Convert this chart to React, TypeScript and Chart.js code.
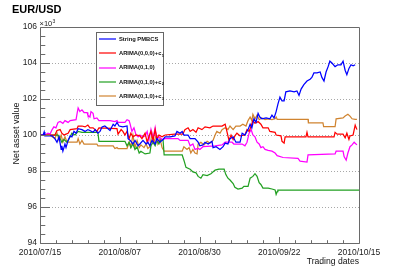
import React, { useEffect, useRef } from 'react';
import { Chart, registerables } from 'chart.js';

Chart.register(...registerables);

const FONT = '"Liberation Sans", Arial, Helvetica, sans-serif';

// x axis: days since 2010/07/15
const xTickDays = [0, 23, 46, 69, 92];
const xTickLabels = ['2010/07/15', '2010/08/07', '2010/08/30', '2010/09/22', '2010/10/15'];
const yTicks = [94, 96, 98, 100, 102, 104, 106];
const yGridValues = [96, 98, 100, 102, 104];

const blueDays = [0,0.9,1.2,1.4,3.5,4.3,4.9,5.5,6.1,6.3,6.6,7.2,7.5,8.1,8.7,9.2,9.8,10.4,11.0,12.1,13.0,13.8,14.4,15.3,15.9,16.7,17.3,17.9,18.7,19.3,20.2,21.1,21.6,22.2,22.8,23.9,25.1,25.4,26.0,26.8,27.4,28.3,28.8,29.7,30.6,31.1,31.7,32.3,33.2,33.7,34.6,35.5,36.1,37.5,38.9,39.5,40.4,41.0,41.5,42.7,43.3,44.7,45.6,46.1,47.0,47.6,48.5,49.6,49.9,50.8,51.9,52.8,53.4,54.2,54.8,55.7,56.5,57.7,58.3,59.1,60.0,60.6,61.1,61.7,62.3,62.9,63.4,64.0,65.2,66.3,66.9,67.5,68.1,68.6,69.2,69.8,70.4,70.9,72.1,73.3,74.1,74.7,75.3,76.1,77.0,77.9,78.4,79.0,79.9,80.8,81.3,81.9,82.5,83.1,83.6,84.2,85.1,85.9,86.8,87.4,88.0,88.5,89.1,89.7,90.3,90.9];
const blueValues = [100.0,100.0,100.17,99.95,99.95,99.8,99.6,99.9,99.2,99.4,99.1,99.5,99.3,99.7,99.95,99.9,100.2,100.1,100.35,100.3,100.2,100.3,100.25,100.15,100.3,100.1,100.2,100.45,100.5,100.4,100.25,100.6,100.5,100.7,100.5,100.45,100.5,99.8,99.7,99.5,99.7,99.4,99.5,99.7,99.5,99.6,99.4,99.7,99.5,99.8,99.6,99.75,99.9,99.9,99.95,100.2,100.1,100.2,100.0,100.0,99.8,99.8,99.6,99.4,99.45,99.6,99.5,99.65,99.3,99.35,99.2,99.35,99.55,99.5,99.8,99.9,99.6,99.6,100.1,100.0,100.3,100.6,100.4,100.9,100.7,101.2,101.0,100.9,100.95,100.9,101.1,100.95,101.3,101.7,102.1,101.9,101.9,102.4,102.45,102.4,102.45,102.2,102.55,102.8,103.0,103.1,103.2,103.45,103.45,103.5,103.2,103.0,103.5,103.8,104.1,104.0,103.8,103.9,103.9,104.1,103.6,103.35,103.7,103.9,103.85,103.9];

const redDays = [0,4.3,4.9,5.8,6.3,6.9,7.5,8.1,8.7,10.7,11.0,12.1,13.0,13.8,14.4,15.3,15.9,16.4,17.0,22.2,22.5,23.4,23.9,24.5,25.1,25.7,26.2,26.8,27.7,28.8,29.4,30.3,30.9,31.4,32.0,32.6,33.2,33.7,34.3,35.2,36.1,38.9,41.2,41.8,42.7,43.3,44.1,45.0,45.6,46.7,47.6,49.0,49.9,52.5,53.4,53.9,54.5,55.1,55.7,56.2,56.8,57.7,59.1,59.7,60.3,60.9,61.4,62.0,62.9,63.7,64.3,65.8,66.3,67.8,68.1,69.5,69.8,70.4,70.7,76.7,77.0,77.3,84.8,85.1,85.7,87.4,88.0,88.5,89.1,89.4,90.3,90.9,91.4];
const redValues = [100,100,100.25,100.3,100.1,100.0,100.05,100.1,100.3,100.35,100.5,100.5,100.45,100.55,100.4,100.4,100.3,100.2,100.4,100.35,100.05,100.3,100.2,100.0,100.2,99.8,100.1,99.9,100.0,99.95,99.8,100.1,99.6,99.9,100.2,99.7,100.3,99.8,100.0,99.9,100.0,100.05,100.05,100.3,100.4,100.2,100.3,100.15,100.4,100.3,100.45,100.4,100.5,100.5,100.6,100.2,99.7,100.0,99.75,99.95,100.1,99.95,100.0,100.3,100.2,100.5,100.8,100.65,100.75,100.6,100.4,100.4,100.2,100.15,100.0,99.95,99.65,99.55,99.9,99.9,100.15,99.9,99.9,100.15,100.05,100.05,99.85,100.1,99.75,99.95,100.0,100.55,100.3];

const magentaDays = [0,1.4,2.3,2.9,3.5,4.0,4.6,5.2,5.8,6.6,7.2,8.1,8.7,10.4,10.7,11.0,11.5,12.1,12.7,13.6,13.8,14.4,14.7,15.3,15.6,16.4,17.0,20.2,21.6,22.2,22.5,24.5,25.1,25.7,26.0,26.5,27.1,27.7,28.3,28.8,29.7,30.3,30.9,31.4,32.0,32.6,33.2,33.7,34.3,35.2,36.1,39.8,40.4,42.7,43.3,44.1,44.7,45.6,46.1,47.0,50.5,52.5,53.4,55.4,55.9,58.3,59.1,59.7,60.3,60.9,61.4,62.0,62.6,63.2,63.7,64.3,64.9,65.8,66.9,67.8,68.4,70.1,74.4,75.0,77.0,77.3,85.1,85.4,87.4,87.7,88.3,88.8,89.4,90.0,90.6,91.4];
const magentaValues = [100,100,100.1,100.05,100.3,100.45,100.4,100.7,100.75,100.65,100.8,100.7,100.8,100.85,101.2,101.5,101.3,101.4,101.25,101.25,101.1,101.0,101.3,101.2,100.9,100.95,100.8,100.8,100.75,100.8,100.7,100.7,100.85,100.8,100.6,100.2,100.4,100.0,99.9,100.0,99.9,99.95,100.2,99.7,100.3,99.8,100.4,99.7,99.9,99.75,99.8,99.8,99.7,99.7,99.4,99.5,99.2,99.25,99.2,99.35,99.4,99.45,99.6,99.6,99.5,99.5,99.4,99.6,100.1,100.3,100.0,99.9,99.6,99.5,99.3,99.35,99.2,99.15,99.1,99.0,98.85,98.75,98.7,98.55,98.5,98.9,98.95,99.1,99.1,98.8,98.6,99.0,99.35,99.45,99.6,99.45];

const greenDays = [0,5.2,5.8,6.3,6.9,7.8,8.7,9.2,10.1,11.0,12.1,16.7,17.0,24.5,25.1,25.7,26.2,26.8,27.4,28.0,28.6,29.1,30.3,31.7,32.0,32.6,33.2,33.7,34.3,34.9,35.5,35.8,41.0,41.5,42.1,43.3,44.1,45.0,45.6,46.4,47.0,48.2,49.3,50.5,51.6,53.1,53.6,54.2,54.8,55.7,56.2,57.1,58.3,58.8,60.0,60.6,61.4,62.0,62.6,63.2,63.7,64.3,65.8,66.9,67.8,68.1,68.4,68.6,92.0];
const greenValues = [100,100,99.8,99.6,99.75,99.6,99.9,100.1,100.0,100.2,100.15,100.15,99.65,99.65,99.4,99.6,99.3,99.5,99.2,99.35,99.0,99.1,98.95,99.0,99.4,99.6,99.4,99.7,99.5,99.75,99.7,98.9,98.9,98.6,98.2,98.1,97.95,97.9,97.7,97.6,97.8,97.75,97.85,98.05,98.1,98.1,97.8,97.6,97.5,97.3,97.1,97.0,97.05,97.15,97.15,97.6,97.7,97.85,97.7,97.35,97.25,97.05,97.05,97.0,96.95,96.7,96.85,96.94,96.94];

const orangeDays = [0,2.9,3.5,4.3,4.9,5.5,6.1,6.6,7.2,7.8,10.7,11.0,11.5,12.1,12.7,16.4,16.7,21.1,21.6,22.2,22.5,25.1,25.7,26.2,26.8,27.4,28.0,28.6,29.1,30.0,30.6,31.1,31.7,32.3,32.9,33.5,34.0,34.6,35.2,35.8,41.0,41.5,42.4,43.0,43.5,44.1,44.7,45.3,45.6,46.4,47.3,48.2,49.0,49.9,50.5,51.0,51.9,52.5,53.4,54.2,54.8,55.7,56.5,57.7,58.5,59.4,60.0,60.6,61.1,61.4,62.0,62.6,63.2,64.0,64.9,65.8,66.9,67.8,68.1,68.4,77.3,77.4,81.6,81.8,85.1,85.4,87.4,88.0,88.8,89.4,90.0,90.9,91.4];
const orangeValues = [100,100,99.9,99.8,100.1,99.7,100.0,99.6,99.9,99.6,99.6,99.8,99.5,99.7,99.5,99.5,99.4,99.4,99.25,99.3,99.25,99.25,99.6,99.35,100.0,99.3,99.7,99.3,99.45,99.3,99.5,99.25,99.35,100.1,99.6,100.0,99.5,99.8,99.3,99.1,99.1,99.35,99.2,99.3,99.0,99.2,99.0,98.95,99.5,99.6,99.45,99.65,99.55,99.7,100.0,100.2,100.1,100.3,100.4,100.3,100.5,100.3,100.5,100.5,100.6,100.5,100.8,101.0,100.8,101.15,100.9,101.1,100.85,100.95,100.85,100.9,100.85,100.9,101.0,100.87,100.87,100.68,100.68,100.46,100.46,100.9,100.95,101.05,101.15,101.05,100.9,100.87,100.87];

const seriesLabels = ['String PMBCS', 'ARIMA(0,0,0)+c', 'ARIMA(0,1,0)', 'ARIMA(0,1,0)+c', 'ARIMA(0,1,0)+c'];
const seriesSubscripts = ['', '1', '', '2', '3'];
const seriesColors = ['#0000ff', '#ff0000', '#ff00ff', '#22a022', '#d08430'];
const seriesDays = [blueDays, redDays, magentaDays, greenDays, orangeDays];
const seriesValues = [blueValues, redValues, magentaValues, greenValues, orangeValues];

export default function App() {
  const ref = useRef<HTMLCanvasElement>(null);

  useEffect(() => {
    document.body.style.margin = '0';
    const canvas = ref.current;
    if (!canvas) return;

    const datasets = seriesLabels.map((label, i) => ({
      label,
      data: seriesDays[i].map((d, j) => ({ x: d, y: seriesValues[i][j] })),
      borderColor: seriesColors[i],
      backgroundColor: seriesColors[i],
      borderWidth: 1.25,
      pointRadius: 0,
      fill: false,
      tension: 0,
    }));

    const frameColor = '#6a6a6a';

    const decor = {
      id: 'rootDecor',
      beforeDatasetsDraw(chart: any) {
        const { ctx, chartArea: a, scales } = chart;
        const y = scales.y;
        ctx.save();
        ctx.strokeStyle = '#a8a8a8';
        ctx.lineWidth = 1;
        ctx.setLineDash([1, 2]);
        for (const v of yGridValues) {
          const py = Math.round(y.getPixelForValue(v)) + 0.5;
          ctx.beginPath();
          ctx.moveTo(a.left, py);
          ctx.lineTo(a.right, py);
          ctx.stroke();
        }
        ctx.restore();
      },
      afterDatasetsDraw(chart: any) {
        const { ctx, chartArea: a, scales } = chart;
        const x = scales.x;
        const y = scales.y;
        ctx.save();
        ctx.setLineDash([]);
        ctx.lineWidth = 1;
        ctx.strokeStyle = frameColor;
        const L = Math.round(a.left) + 0.5;
        const R = Math.round(a.right) + 0.5;
        const T = Math.round(a.top) + 0.5;
        const B = Math.round(a.bottom) + 0.5;
        ctx.beginPath();
        ctx.moveTo(L, T); ctx.lineTo(R, T); ctx.lineTo(R, B); ctx.lineTo(L, B); ctx.closePath();
        ctx.stroke();

        // y ticks (inward)
        const yMin = yTicks[0];
        const yMax = yTicks[yTicks.length - 1];
        const yMinorStep = (yTicks[1] - yTicks[0]) / 4;
        ctx.beginPath();
        for (let v = yMin; v <= yMax + 1e-9; v += yMinorStep) {
          const isMajor = yTicks.some((t) => Math.abs(t - v) < 1e-6);
          const py = Math.round(y.getPixelForValue(v)) + 0.5;
          ctx.moveTo(L, py);
          ctx.lineTo(L + (isMajor ? 9.5 : 4.8), py);
        }
        // x ticks (inward)
        for (let i = 0; i < xTickDays.length; i++) {
          const px = Math.round(x.getPixelForValue(xTickDays[i])) + 0.5;
          ctx.moveTo(px, B);
          ctx.lineTo(px, B - 6.5);
          if (i < xTickDays.length - 1) {
            const step = (xTickDays[i + 1] - xTickDays[i]) / 5;
            for (let k = 1; k < 5; k++) {
              const mx = Math.round(x.getPixelForValue(xTickDays[i] + k * step)) + 0.5;
              ctx.moveTo(mx, B);
              ctx.lineTo(mx, B - 3.3);
            }
          }
        }
        ctx.stroke();

        // legend
        const lx = 96, ly = 32, lw = 67, lh = 73;
        ctx.fillStyle = '#ffffff';
        ctx.fillRect(lx, ly, lw, lh);
        ctx.strokeStyle = '#666666';
        ctx.strokeRect(lx + 0.5, ly + 0.5, lw, lh);
        for (let i = 0; i < seriesLabels.length; i++) {
          const cy = ly + 7 + i * 14.3;
          ctx.save();
          ctx.globalAlpha = 0.6;
          ctx.strokeStyle = seriesColors[i];
          ctx.lineWidth = 2;
          ctx.beginPath();
          ctx.moveTo(99, Math.round(cy));
          ctx.lineTo(116, Math.round(cy));
          ctx.stroke();
          ctx.restore();
          ctx.fillStyle = '#111111';
          ctx.font = `bold 5.8px ${FONT}`;
          ctx.textAlign = 'left';
          ctx.textBaseline = 'middle';
          ctx.fillText(seriesLabels[i], 119, cy);
          if (seriesSubscripts[i]) {
            const w = ctx.measureText(seriesLabels[i]).width;
            ctx.font = `bold 4px ${FONT}`;
            ctx.fillText(seriesSubscripts[i], 119 + w + 0.3, cy + 2.2);
          }
        }

        // title
        ctx.fillStyle = '#000000';
        ctx.textBaseline = 'alphabetic';
        ctx.textAlign = 'left';
        ctx.font = `bold 11px ${FONT}`;
        ctx.fillText('EUR/USD', 12, 12.5);

        // x10^3
        ctx.fillStyle = '#222222';
        ctx.font = `7.5px ${FONT}`;
        ctx.fillText('\u00d710', 39.5, 26);
        const w10 = ctx.measureText('\u00d710').width;
        ctx.font = `5px ${FONT}`;
        ctx.fillText('3', 39.5 + w10 + 0.3, 22.5);

        // y title
        ctx.save();
        ctx.translate(18.5, 133.5);
        ctx.rotate(-Math.PI / 2);
        ctx.textAlign = 'center';
        ctx.font = `9px ${FONT}`;
        ctx.fillStyle = '#111111';
        ctx.fillText('Net asset value', 0, 0);
        ctx.restore();

        // x title
        ctx.textAlign = 'right';
        ctx.font = `8.6px ${FONT}`;
        ctx.fillStyle = '#111111';
        ctx.fillText('Trading dates', 359, 264);
        ctx.restore();
      },
    };

    const chart = new Chart(canvas, {
      type: 'line',
      data: { datasets } as any,
      options: {
        responsive: false,
        animation: false,
        devicePixelRatio: 1,
        events: [],
        layout: { padding: { left: 0, top: 27, right: 40, bottom: 0 } },
        plugins: { legend: { display: false }, tooltip: { enabled: false }, title: { display: false } },
        scales: {
          x: {
            type: 'linear',
            min: xTickDays[0],
            max: xTickDays[xTickDays.length - 1],
            afterBuildTicks: (s: any) => { s.ticks = xTickDays.map((v) => ({ value: v })); },
            afterFit: (s: any) => { s.height = 27; },
            grid: { display: false, drawTicks: false },
            border: { display: false },
            ticks: {
              autoSkip: false,
              maxRotation: 0,
              padding: 5,
              color: '#1a1a1a',
              font: { family: FONT, size: 8.5 },
              callback: (v: any) => {
                const idx = xTickDays.indexOf(Number(v));
                return idx >= 0 ? xTickLabels[idx] : '';
              },
            },
          },
          y: {
            type: 'linear',
            min: yTicks[0],
            max: yTicks[yTicks.length - 1],
            afterBuildTicks: (s: any) => { s.ticks = yTicks.map((v) => ({ value: v })); },
            afterFit: (s: any) => { s.width = 40; },
            grid: { display: false, drawTicks: false },
            border: { display: false },
            ticks: {
              padding: 3,
              color: '#1a1a1a',
              font: { family: FONT, size: 8.5 },
              callback: (v: any) => String(v),
            },
          },
        },
      } as any,
      plugins: [decor],
    });

    return () => chart.destroy();
  }, []);

  return (
    <canvas
      ref={ref}
      width={399}
      height={270}
      style={{ display: 'block', width: '399px', height: '270px' }}
    />
  );
}
